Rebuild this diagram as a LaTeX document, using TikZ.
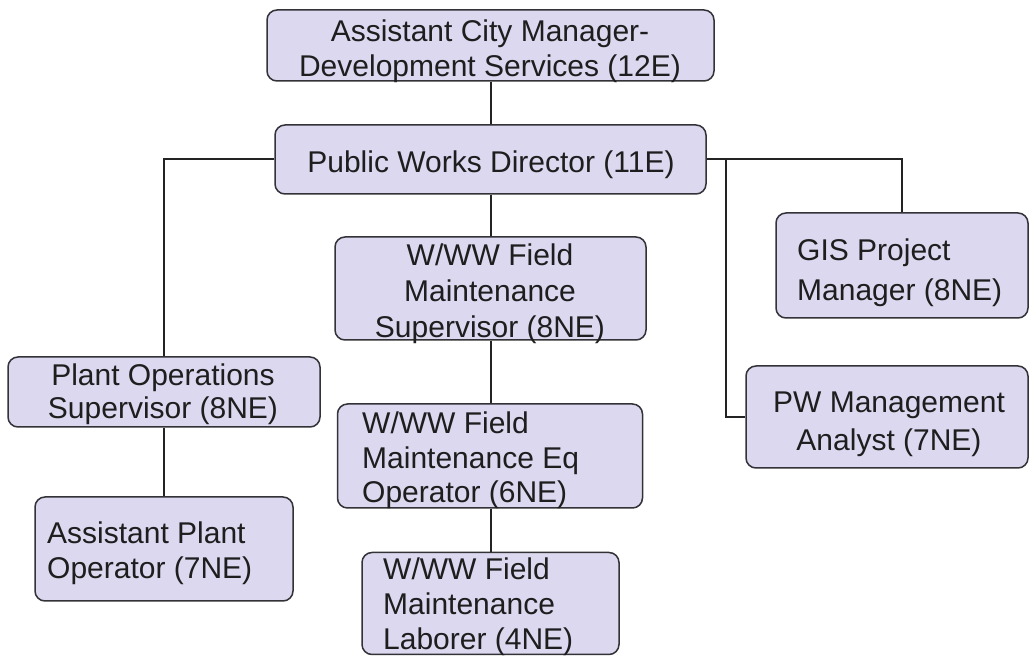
\documentclass[tikz,border=0pt]{standalone}
\usepackage{fontspec}
\setmainfont{Liberation Sans}
\definecolor{boxfill}{RGB}{220,216,240}
\definecolor{boxline}{RGB}{50,50,55}
\definecolor{conn}{RGB}{35,35,35}
\definecolor{txtc}{RGB}{30,30,30}
\begin{document}
\begin{tikzpicture}[x=1pt,y=1pt,
  orgbox/.style={draw=boxline,fill=boxfill,line width=1.5pt,rounded corners=10pt,inner sep=0pt},
  txt/.style={inner sep=0pt,text=txtc,font=\fontsize{30}{35}\selectfont},
  link/.style={draw=conn,line width=2pt}]
\useasboundingbox (0,0) rectangle (1029,656);
% boxes
\node[orgbox,minimum width=447pt,minimum height=71pt] (top) at (490.5,610.5) {};
\node[orgbox,minimum width=431pt,minimum height=69pt] (pwd) at (490.5,496.5) {};
\node[orgbox,minimum width=311pt,minimum height=103pt] (sup) at (490.5,367.5) {};
\node[orgbox,minimum width=305pt,minimum height=104pt] (eq) at (490,200) {};
\node[orgbox,minimum width=257pt,minimum height=102pt] (lab) at (490.5,52.5) {};
\node[orgbox,minimum width=312pt,minimum height=70pt] (plant) at (164,264) {};
\node[orgbox,minimum width=258pt,minimum height=104pt] (asst) at (164,107) {};
\node[orgbox,minimum width=252pt,minimum height=105pt] (gis) at (902,390.5) {};
\node[orgbox,minimum width=282pt,minimum height=102pt] (pw) at (887,239) {};
% texts
\node[txt,align=center] (ttop) at (490,604.5) {Assistant City Manager-\\Development Services (12E)};
\node[txt,align=center] (tpwd) at (491,491) {Public Works Director (11E)};
\node[txt,align=center,font=\fontsize{30}{36}\selectfont] (tsup) at (490,362) {W/WW Field\\Maintenance\\Supervisor (8NE)};
\node[txt,align=left,anchor=west,font=\fontsize{30}{34.5}\selectfont] (teq) at (362,195.3) {W/WW Field\\Maintenance Eq\\Operator (6NE)};
\node[txt,align=left,anchor=west] (tlab) at (383,49.3) {W/WW Field\\Maintenance\\Laborer (4NE)};
\node[txt,align=center,font=\fontsize{30}{33}\selectfont] (tplant) at (163,261.5) {Plant Operations\\Supervisor (8NE)};
\node[txt,align=left,anchor=west] (tasst) at (47,102.5) {Assistant Plant\\Operator (7NE)};
\node[txt,align=left,anchor=west,font=\fontsize{30}{40}\selectfont] (tgis) at (797,383) {GIS Project\\Manager (8NE)};
\node[txt,align=center,font=\fontsize{30}{38}\selectfont] (tpw) at (889,232) {PW Management\\Analyst (7NE)};
% connectors
\coordinate (j) at (726,496.5);
\draw[link] (top.south) -- (pwd.north);
\draw[link] (pwd.west) -| (plant.north);
\draw[link] (plant.south) -- (asst.north);
\draw[link] (pwd.south) -- (sup.north);
\draw[link] (sup.south) -- (sup.south |- eq.north);
\draw[link] (sup.south |- eq.south) -- (sup.south |- lab.north);
\draw[link] (pwd.east) -| (gis.north);
\draw[link] (j) |- (pw.west);
\end{tikzpicture}
\end{document}
